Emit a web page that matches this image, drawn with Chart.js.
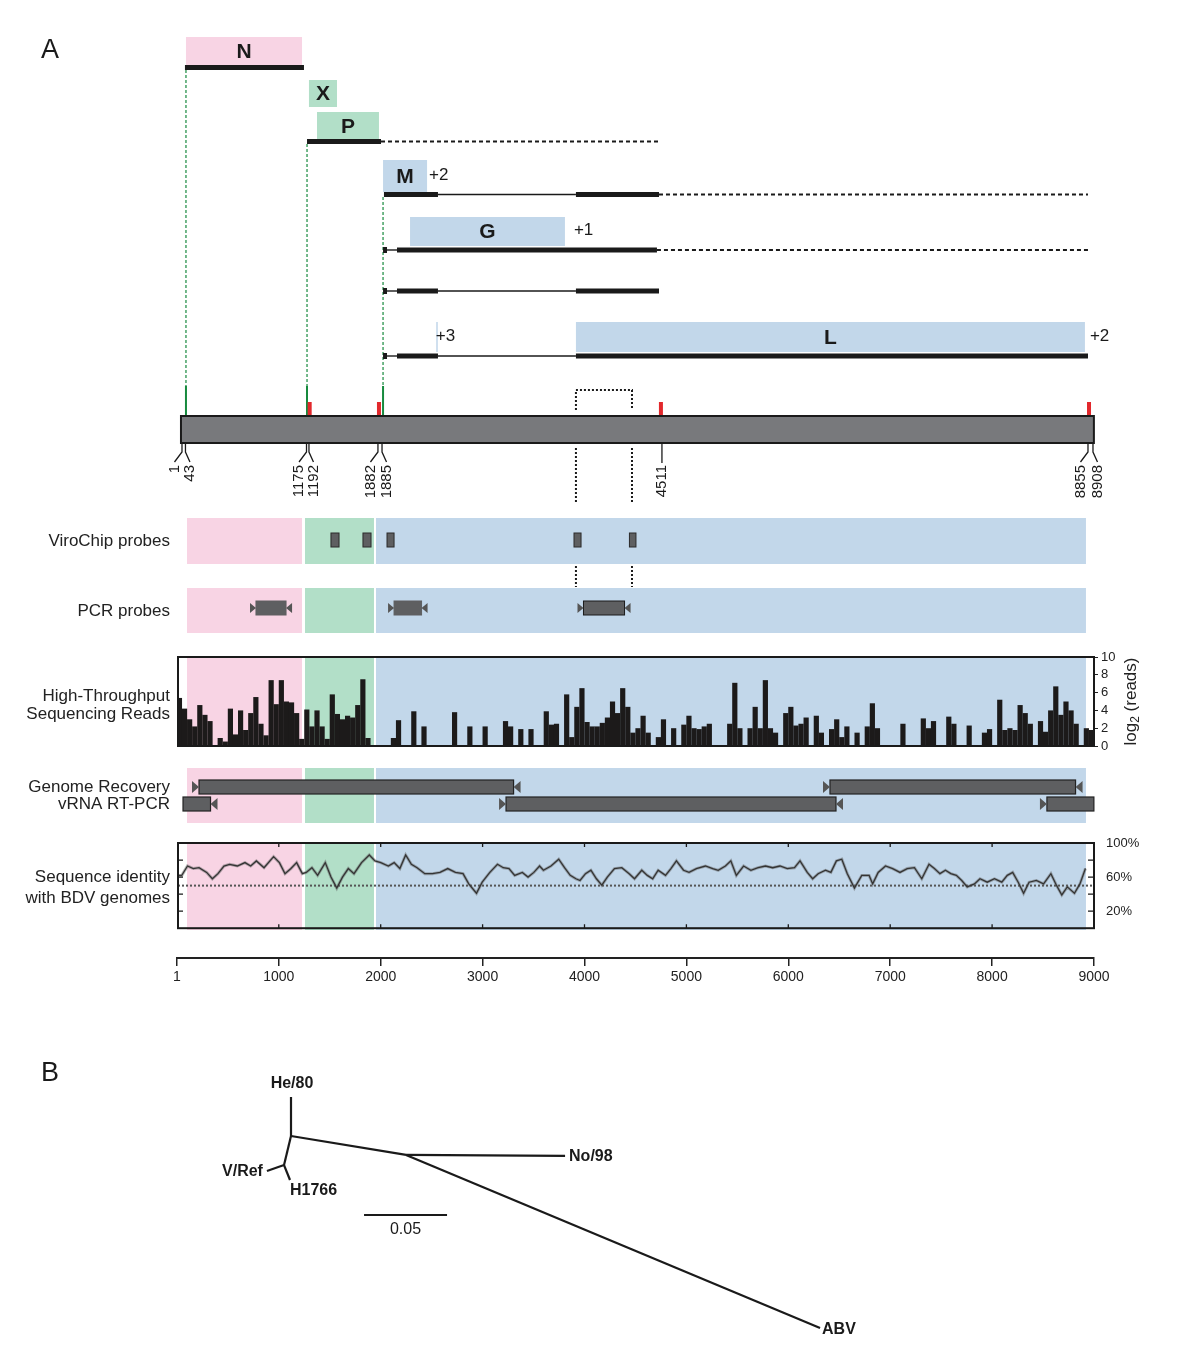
<!DOCTYPE html>
<html>
<head>
<meta charset="utf-8">
<script src="https://cdn.jsdelivr.net/npm/chart.js@4.4.1/dist/chart.umd.min.js"></script>
<style>
  html, body { margin: 0; padding: 0; background: #fff; }
  #page { position: relative; width: 1200px; height: 1358px; }
  canvas { position: absolute; left: 0; }
</style>
</head>
<body>
<div id="page">
  <canvas id="map" width="1200" height="1000" style="top:0"></canvas>
  <canvas id="reads" width="1200" height="115" style="top:645px"></canvas>
  <canvas id="ident" width="1200" height="110" style="top:830px"></canvas>
  <canvas id="axis" width="1200" height="50" style="top:940px"></canvas>
  <canvas id="tree" width="1200" height="318" style="top:1040px"></canvas>
</div>
<script>
// ---- data (genome positions in nt) ----
const axisTicks = [1, 1000, 2000, 3000, 4000, 5000, 6000, 7000, 8000, 9000];

// coloured genome regions (N, X/P, M/G/L)
const regionStart = [99, 1257, 1954];
const regionEnd = [1228, 1934, 8921];

// ORF label boxes
const geneNames = ['N', 'X', 'P', 'M', 'G', 'L', ''];
const geneStart = [89, 1296, 1375, 2023, 2288, 3916, 2545];
const geneEnd = [1228, 1571, 1983, 2455, 3808, 8911, 2560];
const geneFrame = ['', '', '', '+2', '+1', '+2', '+3'];

// transcripts: [start, end, kind]
const txN = [[79, 1247, 'orf']];
const txP = [[1277, 2003, 'orf'], [2003, 4741, 'ext']];
const txM = [[2032, 2562, 'orf'], [2562, 3916, 'intron'], [3916, 4731, 'orf'], [4731, 8941, 'ext']];
const txG = [[2023, 2062, 'cap'], [2062, 2160, 'intron'], [2160, 4711, 'orf'], [4711, 8941, 'ext']];
const tx3 = [[2023, 2062, 'cap'], [2062, 2160, 'intron'], [2160, 2562, 'orf'], [2562, 3916, 'intron'], [3916, 4731, 'orf']];
const txL = [[2023, 2062, 'cap'], [2062, 2160, 'intron'], [2160, 2562, 'orf'], [2562, 3916, 'intron'], [3916, 8941, 'orf']];

// transcription starts (green) and termination sites (red)
const startSites = [89, 1277, 2023];
const stopSites = [1303, 1983, 4750, 8951];

// genome bar and numbered sites
const genomeStart = 40, genomeEnd = 8999;
const siteLabels = ['1', '43', '1175', '1192', '1882', '1885', '4511', '8855', '8908'];
const sitePos = [50, 84, 1272, 1296, 1973, 2013, 4760, 8941, 8990];

// intron bracket / probe guide lines
const intronBracket = [3916, 4466];

// ViroChip probes
const chipStart = [1512, 1826, 2062, 3897, 4441];
const chipEnd = [1591, 1905, 2131, 3966, 4505];

// PCR probes
const pcrStart = [776, 2131, 3990];
const pcrEnd = [1071, 2401, 4393];

// genome recovery RT-PCR products
const recStart = [217, 6409, 60, 3230, 8538];
const recEnd = [3304, 8819, 330, 6468, 8999];
const recRow = [0, 0, 1, 1, 1];
const recFwd = [true, true, false, true, true];
const recRev = [true, true, true, true, false];

// high-throughput reads, log2(reads) per 50 nt bin
const READS_BIN = 50;
const readsLog2 = [
  5.4, 4.2, 3.0, 2.2, 4.6, 3.5, 2.8, 0, 0.9, 0.5,
  4.2, 1.3, 4.0, 1.8, 3.7, 5.5, 2.5, 1.2, 7.4, 4.7,
  7.4, 5.0, 4.9, 3.7, 0.8, 4.1, 2.2, 4.0, 2.2, 0.8,
  5.8, 3.6, 3.0, 3.4, 3.2, 4.6, 7.5, 0.9, 0, 0,
  0, 0, 0.9, 2.9, 0, 0, 3.9, 0, 2.2, 0,
  0, 0, 0, 0, 3.8, 0, 0, 2.2, 0, 0,
  2.2, 0, 0, 0, 2.8, 2.2, 0, 1.9, 0, 1.9,
  0, 0, 3.9, 2.4, 2.5, 0, 5.8, 1.0, 4.4, 6.5,
  2.7, 2.2, 2.2, 2.6, 3.2, 5.0, 3.7, 6.5, 4.4, 1.5,
  2.0, 3.4, 1.5, 0, 1.0, 3.0, 0, 2.0, 0, 2.4,
  3.4, 2.0, 1.9, 2.2, 2.5, 0, 0, 0, 2.5, 7.1,
  2.0, 0, 2.0, 4.4, 2.0, 7.4, 2.0, 1.5, 0, 3.7,
  4.4, 2.3, 2.5, 3.2, 0, 3.4, 1.5, 0, 1.9, 3.0,
  1.0, 2.2, 0, 1.5, 0, 2.2, 4.8, 2.0, 0, 0,
  0, 0, 2.5, 0, 0, 0, 3.1, 2.0, 2.8, 0,
  0, 3.3, 2.5, 0, 0, 2.3, 0, 0, 1.5, 1.9,
  0, 5.2, 1.8, 2.0, 1.8, 4.6, 3.7, 2.5, 0, 2.8,
  1.6, 4.0, 6.7, 3.5, 5.0, 4.0, 2.5, 0, 2.0, 1.8
];

// sequence identity with BDV genomes (%)
const identPos = [
  11, 48, 104, 161, 217, 292, 348, 403, 462, 517, 593, 668, 724, 780, 855, 949, 1006, 1061, 1119, 1175,
  1231, 1269, 1325, 1381, 1456, 1512, 1569, 1625, 1682, 1738, 1812, 1888, 1944, 2001, 2075, 2132, 2188, 2245, 2301, 2357,
  2433, 2508, 2582, 2658, 2733, 2808, 2864, 2940, 2996, 3071, 3146, 3203, 3259, 3315, 3390, 3446, 3503, 3559, 3597, 3671,
  3747, 3804, 3860, 3916, 3956, 4010, 4063, 4117, 4170, 4224, 4294, 4366, 4438, 4491, 4562, 4616, 4669, 4723, 4795, 4848,
  4902, 4972, 5026, 5098, 5187, 5258, 5312, 5383, 5436, 5490, 5561, 5633, 5704, 5776, 5847, 5918, 5990, 6061, 6115, 6186,
  6239, 6293, 6365, 6418, 6472, 6525, 6579, 6649, 6721, 6793, 6828, 6882, 6954, 7024, 7096, 7167, 7238, 7310, 7381, 7434,
  7488, 7542, 7595, 7649, 7702, 7756, 7827, 7881, 7952, 8023, 8095, 8149, 8202, 8256, 8309, 8363, 8434, 8505, 8577, 8631,
  8684, 8738, 8808, 8862, 8916
];
const identVal = [
  62, 62, 73, 70, 71, 65.5, 58, 64, 73, 75, 73, 77, 73, 79, 71, 84, 77, 64, 70, 77,
  64, 65.5, 71, 62, 77, 60, 47, 60, 70, 64, 77, 86, 79, 77, 73, 77, 70, 86, 75, 71,
  64, 64, 65.5, 70, 65.5, 64, 52, 41, 54, 65.5, 75, 71, 70, 62, 65.5, 60, 65.5, 73, 68, 73,
  81, 71, 62, 58, 56, 64, 68, 58, 50.5, 60, 70, 71, 64, 58, 68, 62, 58, 68, 62, 70,
  79, 68, 65.5, 70, 73, 70, 68, 73, 79, 62, 73, 68, 71, 73, 71, 73, 70, 71, 79, 65.5,
  58, 64, 68, 65.5, 79, 81, 64, 47, 62, 62, 52, 65.5, 73, 70, 65.5, 70, 71, 58, 75, 70,
  64, 68, 64, 62, 56, 48.5, 52, 58, 54, 58, 54, 62, 65.5, 54, 41, 54, 56, 52, 64, 50.5,
  39, 48.5, 41, 52, 70
];
const identRef = 50;

// tree (branch-length units)
const treeNodeName = ['A', 'B', 'C'];
const treeNodeX = [0, 0.0693, -0.0042];
const treeNodeY = [0, 0.0114, 0.0175];
const treeNodeParent = [null, 'A', 'A'];
const treeTips = ['He/80', 'No/98', 'ABV', 'V/Ref', 'H1766'];
const treeTipX = [0, 0.1651, 0.3187, -0.0145, -0.0006];
const treeTipY = [-0.0235, 0.0120, 0.1157, 0.0211, 0.0265];
const treeTipParent = ['A', 'B', 'B', 'C', 'C'];
const scaleBarLength = 0.05;

// ---- styles ----
const FONT = "'Liberation Sans', Arial, sans-serif";
const PINK = '#f8d4e4', GREEN = '#b2dfc8', BLUE = '#c2d7ea';
const regionColor = [PINK, GREEN, BLUE];
const geneFill = { N: PINK, X: GREEN, P: GREEN };
const INK = '#1a1a1a';
const BOXGRAY = '#5e5f61';

const geneBoxY = [[37, 66], [80, 107], [112, 140], [160, 192], [217, 246], [322, 352], [322, 352]];
const frameGap = [0, 0, 0, 2, 9, 5, -2];
const txRows = [[txN, 67.5], [txP, 141.5], [txM, 194.5], [txG, 250], [tx3, 291], [txL, 356]];
const startLineTop = [70, 144, 197];
const bgRows = [[518, 564], [588, 633], [658, 745], [768, 823], [844, 930]];

const baseOpts = (padding) => ({
  responsive: false,
  animation: false,
  events: [],
  layout: { padding },
  plugins: { legend: { display: false }, tooltip: { enabled: false } }
});

function tri(ctx, xTip, xBase, yc, h) {
  ctx.beginPath();
  ctx.moveTo(xBase, yc - h);
  ctx.lineTo(xBase, yc + h);
  ctx.lineTo(xTip, yc);
  ctx.closePath();
  ctx.fill();
}

// ---- panel A: map, probe tracks, backgrounds ----
const mapPlugin = {
  id: 'mapDraw',
  afterDraw(chart) {
    const ctx = chart.ctx;
    const X = v => chart.scales.x.getPixelForValue(v);
    ctx.save();

    ctx.fillStyle = INK;
    ctx.font = '27px ' + FONT;
    ctx.textAlign = 'left';
    ctx.textBaseline = 'middle';
    ctx.fillText('A', 41, 51);

    // track backgrounds
    bgRows.forEach(([y0, y1]) => {
      regionStart.forEach((s, i) => {
        ctx.fillStyle = regionColor[i];
        ctx.fillRect(X(s), y0, X(regionEnd[i]) - X(s), y1 - y0);
      });
    });

    // gene boxes
    geneNames.forEach((g, i) => {
      const [y0, y1] = geneBoxY[i];
      const x0 = X(geneStart[i]), x1 = X(geneEnd[i]);
      ctx.fillStyle = geneFill[g] || BLUE;
      ctx.fillRect(x0, y0, x1 - x0, y1 - y0);
      if (g) {
        ctx.fillStyle = INK;
        ctx.font = 'bold 21px ' + FONT;
        ctx.textAlign = 'center';
        ctx.fillText(g, (x0 + x1) / 2, (y0 + y1) / 2 + 1);
      }
      if (geneFrame[i]) {
        ctx.fillStyle = INK;
        ctx.font = '17px ' + FONT;
        ctx.textAlign = 'left';
        ctx.fillText(geneFrame[i], x1 + frameGap[i], (y0 + y1) / 2 - 1);
      }
    });

    // green transcription start lines
    ctx.strokeStyle = '#168a3e';
    startSites.forEach((s, i) => {
      const x = X(s);
      ctx.lineWidth = 1.2;
      ctx.setLineDash([3, 2]);
      ctx.beginPath(); ctx.moveTo(x, startLineTop[i]); ctx.lineTo(x, 386); ctx.stroke();
      ctx.setLineDash([]);
      ctx.lineWidth = 2;
      ctx.beginPath(); ctx.moveTo(x, 386); ctx.lineTo(x, 416); ctx.stroke();
    });

    // transcripts
    txRows.forEach(([segs, y]) => {
      segs.forEach(([s, e, kind]) => {
        const x0 = X(s), x1 = X(e);
        ctx.fillStyle = INK;
        ctx.strokeStyle = INK;
        if (kind === 'orf') ctx.fillRect(x0, y - 2.5, x1 - x0, 5);
        else if (kind === 'cap') ctx.fillRect(x0, y - 3, x1 - x0, 6);
        else {
          ctx.lineWidth = kind === 'ext' ? 2 : 1.4;
          ctx.setLineDash(kind === 'ext' ? [4, 3] : []);
          ctx.beginPath(); ctx.moveTo(x0, y); ctx.lineTo(x1, y); ctx.stroke();
          ctx.setLineDash([]);
        }
      });
    });

    // termination marks
    ctx.fillStyle = '#e2282c';
    stopSites.forEach(s => ctx.fillRect(X(s) - 2, 402, 4, 14));

    // genome bar
    ctx.fillStyle = '#78797c';
    ctx.fillRect(X(genomeStart), 416, X(genomeEnd) - X(genomeStart), 27);
    ctx.strokeStyle = INK;
    ctx.lineWidth = 2;
    ctx.strokeRect(X(genomeStart), 416, X(genomeEnd) - X(genomeStart), 27);

    // numbered sites
    ctx.lineWidth = 1.3;
    ctx.font = '15px ' + FONT;
    sitePos.forEach((s, i) => {
      const x = X(s);
      const near = (j) => j >= 0 && j < sitePos.length && Math.abs(sitePos[j] - s) < 60;
      const shift = near(i + 1) ? -7.5 : (near(i - 1) ? 4.5 : 0);
      ctx.beginPath();
      ctx.moveTo(x, 443);
      ctx.lineTo(x, shift ? 452 : 463);
      if (shift) ctx.lineTo(x + shift, 462);
      ctx.stroke();
      ctx.save();
      ctx.translate(x + shift, 465);
      ctx.rotate(-Math.PI / 2);
      ctx.textAlign = 'right';
      ctx.textBaseline = 'middle';
      ctx.fillStyle = INK;
      ctx.fillText(siteLabels[i], 0, 0);
      ctx.restore();
    });

    // dotted intron bracket and guide lines
    ctx.setLineDash([2, 2]);
    ctx.lineWidth = 2;
    const [b0, b1] = intronBracket.map(X);
    ctx.beginPath();
    ctx.moveTo(b0, 410); ctx.lineTo(b0, 390); ctx.lineTo(b1, 390); ctx.lineTo(b1, 410);
    [[448, 502], [566, 587]].forEach(([y0, y1]) => {
      ctx.moveTo(b0, y0); ctx.lineTo(b0, y1);
      ctx.moveTo(b1, y0); ctx.lineTo(b1, y1);
    });
    ctx.stroke();
    ctx.setLineDash([]);

    // ViroChip probes
    ctx.lineWidth = 1;
    chipStart.forEach((s, i) => {
      const x0 = X(s), x1 = X(chipEnd[i]);
      ctx.fillStyle = BOXGRAY;
      ctx.fillRect(x0, 533, x1 - x0, 14);
      ctx.strokeStyle = '#2a2a2a';
      ctx.strokeRect(x0, 533, x1 - x0, 14);
    });

    // PCR probes
    pcrStart.forEach((s, i) => {
      const x0 = X(s), x1 = X(pcrEnd[i]);
      ctx.fillStyle = BOXGRAY;
      ctx.fillRect(x0, 601, x1 - x0, 14);
      ctx.strokeStyle = i === 2 ? INK : BOXGRAY;
      ctx.strokeRect(x0, 601, x1 - x0, 14);
      ctx.fillStyle = '#555';
      tri(ctx, x0, x0 - 6, 608, 5);
      tri(ctx, x1, x1 + 6, 608, 5);
    });

    // genome recovery products
    recStart.forEach((s, i) => {
      const x0 = X(s), x1 = X(recEnd[i]);
      const y = recRow[i] ? 797 : 780;
      ctx.fillStyle = BOXGRAY;
      ctx.fillRect(x0, y, x1 - x0, 14);
      ctx.strokeStyle = '#222';
      ctx.lineWidth = 1.2;
      ctx.strokeRect(x0, y, x1 - x0, 14);
      ctx.fillStyle = '#555';
      if (recFwd[i]) tri(ctx, x0, x0 - 7, y + 7, 6);
      if (recRev[i]) tri(ctx, x1, x1 + 7, y + 7, 6);
    });

    // row labels
    ctx.fillStyle = '#222';
    ctx.font = '17px ' + FONT;
    ctx.textAlign = 'right';
    ctx.textBaseline = 'middle';
    [['ViroChip probes', 541], ['PCR probes', 611], ['High-Throughput', 696], ['Sequencing Reads', 714],
     ['Genome Recovery', 787], ['vRNA RT-PCR', 804], ['Sequence identity', 877], ['with BDV genomes', 898]]
      .forEach(([t, y]) => ctx.fillText(t, 170, y));

    ctx.restore();
  }
};

new Chart(document.getElementById('map'), {
  type: 'scatter',
  data: { datasets: [] },
  options: Object.assign(baseOpts({ left: 177, right: 106, top: 0, bottom: 0 }), {
    scales: {
      x: { type: 'linear', min: 1, max: 9000, display: false },
      y: { type: 'linear', min: 0, max: 1000, display: false }
    }
  }),
  plugins: [mapPlugin]
});

// ---- high-throughput reads ----
const boxPlugin = {
  id: 'boxDraw',
  afterDraw(chart) {
    const { ctx, chartArea: a } = chart;
    ctx.save();
    ctx.strokeStyle = INK;
    ctx.lineWidth = 2;
    ctx.strokeRect(a.left + 1, a.top, a.right - a.left - 1, a.bottom - a.top);
    ctx.restore();
  }
};

const readsTitle = {
  id: 'readsTitle',
  afterDraw(chart) {
    const { ctx, chartArea: a } = chart;
    ctx.save();
    ctx.translate(1131, (a.top + a.bottom) / 2);
    ctx.rotate(-Math.PI / 2);
    ctx.fillStyle = '#222';
    ctx.textBaseline = 'middle';
    ctx.font = '17px ' + FONT;
    const w1 = ctx.measureText('log').width;
    ctx.font = '12px ' + FONT;
    const w2 = ctx.measureText('2').width;
    ctx.font = '17px ' + FONT;
    const w3 = ctx.measureText(' (reads)').width;
    let x = -(w1 + w2 + w3) / 2;
    ctx.textAlign = 'left';
    ctx.fillText('log', x, 0);
    ctx.font = '12px ' + FONT;
    ctx.fillText('2', x + w1, 5);
    ctx.font = '17px ' + FONT;
    ctx.fillText(' (reads)', x + w1 + w2, 0);
    ctx.restore();
  }
};

new Chart(document.getElementById('reads'), {
  type: 'bar',
  data: {
    datasets: [{
      data: readsLog2.map((v, i) => ({ x: READS_BIN * (i + 0.5), y: v })),
      backgroundColor: '#1c1a1a',
      borderWidth: 0,
      barPercentage: 1.02,
      categoryPercentage: 1
    }]
  },
  options: Object.assign(baseOpts({ left: 177, right: 46, top: 12, bottom: 14 }), {
    scales: {
      x: { type: 'linear', min: 1, max: 9000, display: false, offset: false },
      y: {
        position: 'right', min: 0, max: 10, clip: false,
        afterFit: a => { a.width = 60; },
        ticks: { stepSize: 2, autoSkip: false, color: '#222', font: { family: FONT, size: 13 }, padding: 3 },
        grid: { display: true, drawOnChartArea: false, drawTicks: true, tickLength: 4, color: '#222' },
        border: { display: false }
      }
    }
  }),
  plugins: [boxPlugin, readsTitle]
});

// ---- sequence identity ----
const identDecor = {
  id: 'identDecor',
  beforeDatasetsDraw(chart) {
    const { ctx, chartArea: a, scales } = chart;
    const y = scales.y.getPixelForValue(identRef);
    ctx.save();
    ctx.strokeStyle = '#555';
    ctx.lineWidth = 2;
    ctx.setLineDash([2, 2]);
    ctx.beginPath(); ctx.moveTo(a.left + 1, y); ctx.lineTo(a.right, y); ctx.stroke();
    ctx.restore();
  },
  afterDraw(chart) {
    const { ctx, chartArea: a, scales } = chart;
    ctx.save();
    ctx.strokeStyle = INK;
    ctx.lineWidth = 1.3;
    [20, 40, 60, 80].forEach(v => {
      const y = scales.y.getPixelForValue(v);
      ctx.beginPath();
      ctx.moveTo(a.left, y); ctx.lineTo(a.left + 6, y);
      ctx.moveTo(a.right, y); ctx.lineTo(a.right - 6, y);
      ctx.stroke();
    });
    axisTicks.slice(1, -1).forEach(v => {
      const x = scales.x.getPixelForValue(v);
      ctx.beginPath();
      ctx.moveTo(x, a.top); ctx.lineTo(x, a.top + 4);
      ctx.moveTo(x, a.bottom); ctx.lineTo(x, a.bottom - 4);
      ctx.stroke();
    });
    ctx.restore();
  }
};

const identPoints = identPos.map((p, i) => ({ x: p, y: identVal[i] }));
new Chart(document.getElementById('ident'), {
  type: 'line',
  data: {
    datasets: [
      { data: identPoints, borderColor: 'rgba(95,95,95,0.45)', borderWidth: 3, pointRadius: 0, tension: 0 },
      { data: identPoints, borderColor: '#111', borderWidth: 1.3, pointRadius: 0, tension: 0 }
    ]
  },
  options: Object.assign(baseOpts({ left: 177, right: 46, top: 13, bottom: 9 }), {
    scales: {
      x: { type: 'linear', min: 1, max: 9000, display: false },
      y: {
        position: 'right', min: 0, max: 100, clip: false,
        afterFit: a => { a.width = 60; },
        ticks: {
          stepSize: 20, autoSkip: false, color: '#222', font: { family: FONT, size: 13 }, padding: 4,
          callback: v => (v % 40 === 20 ? v + '%' : '')
        },
        grid: { display: false },
        border: { display: false }
      }
    }
  }),
  plugins: [identDecor, boxPlugin]
});

// ---- shared genome axis ----
new Chart(document.getElementById('axis'), {
  type: 'scatter',
  data: { datasets: [] },
  options: Object.assign(baseOpts({ left: 177, right: 106, top: 15, bottom: 0 }), {
    scales: {
      x: {
        type: 'linear', min: 1, max: 9000, position: 'bottom',
        afterBuildTicks: a => { a.ticks = axisTicks.map(v => ({ value: v })); },
        afterFit: a => { a.height = 32; },
        grid: { display: true, drawOnChartArea: false, drawTicks: true, tickLength: 8, color: '#222', lineWidth: 1.5 },
        border: { display: true, color: '#222', width: 2 },
        ticks: {
          color: '#222', font: { family: FONT, size: 14 }, padding: 3,
          maxRotation: 0, autoSkip: false, callback: v => String(v)
        }
      },
      y: { display: false, min: 0, max: 1 }
    }
  })
});

// ---- panel B: tree ----
const TREE_SCALE = 1660;           // px per substitution/site
const TREE_ORIGIN = [291, 96];     // node A inside the tree canvas
const nodeXY = name => {
  const i = treeNodeName.indexOf(name);
  return [treeNodeX[i], treeNodeY[i]];
};
const treeBranches = [];
treeNodeName.forEach((n, i) => {
  if (treeNodeParent[i]) {
    const [px, py] = nodeXY(treeNodeParent[i]);
    treeBranches.push([{ x: px, y: py }, { x: treeNodeX[i], y: treeNodeY[i] }]);
  }
});
treeTips.forEach((t, i) => {
  const [px, py] = nodeXY(treeTipParent[i]);
  treeBranches.push([{ x: px, y: py }, { x: treeTipX[i], y: treeTipY[i] }]);
});
treeBranches.push([{ x: 0.044, y: 0.0476 }, { x: 0.044 + scaleBarLength, y: 0.0476 }]);

const tipAlign = ['center', 'left', 'left', 'right', 'left'];
const tipOffset = [[1, -13], [4, 1], [2, 2], [-4, 1], [0, 11]];
const treeLabels = {
  id: 'treeLabels',
  afterDraw(chart) {
    const { ctx, scales } = chart;
    ctx.save();
    ctx.fillStyle = INK;
    ctx.font = '27px ' + FONT;
    ctx.textBaseline = 'middle';
    ctx.textAlign = 'left';
    ctx.fillText('B', 41, 34);
    ctx.font = 'bold 16px ' + FONT;
    treeTips.forEach((t, i) => {
      ctx.textAlign = tipAlign[i];
      ctx.fillText(t, scales.x.getPixelForValue(treeTipX[i]) + tipOffset[i][0],
        scales.y.getPixelForValue(treeTipY[i]) + tipOffset[i][1]);
    });
    ctx.font = '16px ' + FONT;
    ctx.textAlign = 'center';
    ctx.fillText(String(scaleBarLength), scales.x.getPixelForValue(0.044 + scaleBarLength / 2),
      scales.y.getPixelForValue(0.0476) + 15);
    ctx.restore();
  }
};

new Chart(document.getElementById('tree'), {
  type: 'scatter',
  data: {
    datasets: treeBranches.map(d => ({
      data: d, showLine: true, borderColor: INK, borderWidth: 2.2, pointRadius: 0
    }))
  },
  options: Object.assign(baseOpts(0), {
    scales: {
      x: { type: 'linear', display: false, min: -TREE_ORIGIN[0] / TREE_SCALE, max: (1200 - TREE_ORIGIN[0]) / TREE_SCALE },
      y: { type: 'linear', display: false, reverse: true, min: -TREE_ORIGIN[1] / TREE_SCALE, max: (318 - TREE_ORIGIN[1]) / TREE_SCALE }
    }
  }),
  plugins: [treeLabels]
});
</script>
</body>
</html>
